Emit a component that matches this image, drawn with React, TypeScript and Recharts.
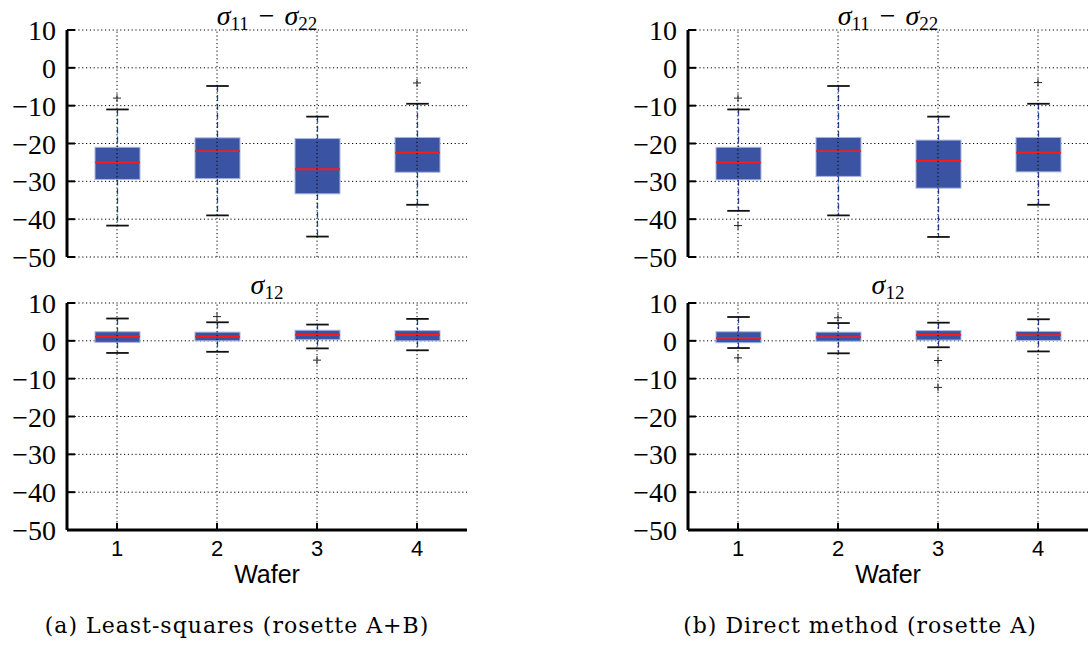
import { ComposedChart, Bar, Scatter, XAxis, YAxis, CartesianGrid, ReferenceLine } from 'recharts';

const wafers = [1, 2, 3, 4];
const yTicks = [-50, -40, -30, -20, -10, 0, 10];

// (a) least-squares, sigma11 - sigma22
const lsDiffLow = [-41.7, -39.0, -44.6, -36.2];
const lsDiffQ1 = [-29.5, -29.3, -33.3, -27.6];
const lsDiffMedian = [-25.0, -22.0, -26.8, -22.4];
const lsDiffQ3 = [-21.0, -18.5, -18.7, -18.4];
const lsDiffHigh = [-11.0, -4.8, -12.9, -9.5];
const lsDiffOutliers = [[-8.0], [], [], [-4.0]];

// (a) least-squares, sigma12
const lsShearLow = [-3.2, -2.9, -2.0, -2.5];
const lsShearQ1 = [-0.4, 0.0, 0.3, 0.0];
const lsShearMedian = [1.1, 1.1, 1.6, 1.6];
const lsShearQ3 = [2.4, 2.3, 2.8, 2.7];
const lsShearHigh = [5.9, 4.9, 4.3, 5.8];
const lsShearOutliers = [[], [6.4], [-5.1], []];

// (b) direct method, sigma11 - sigma22
const dmDiffLow = [-37.8, -39.0, -44.7, -36.2];
const dmDiffQ1 = [-29.6, -28.7, -31.8, -27.5];
const dmDiffMedian = [-25.0, -22.0, -24.6, -22.4];
const dmDiffQ3 = [-21.0, -18.4, -19.1, -18.4];
const dmDiffHigh = [-11.0, -4.8, -12.9, -9.5];
const dmDiffOutliers = [[-8.0, -41.7], [], [], [-3.9]];

// (b) direct method, sigma12
const dmShearLow = [-1.9, -3.3, -1.7, -2.8];
const dmShearQ1 = [-0.5, -0.1, 0.2, 0.1];
const dmShearMedian = [0.8, 1.0, 1.6, 1.5];
const dmShearQ3 = [2.4, 2.3, 2.7, 2.5];
const dmShearHigh = [6.3, 4.7, 4.8, 5.7];
const dmShearOutliers = [[-4.5], [6.1], [-5.2, -12.3], []];

const buildRows = (low: number[], q1: number[], med: number[], q3: number[], high: number[]) =>
  wafers.map((w, i) => ({ x: w, low: low[i], q1: q1[i], med: med[i], q3: q3[i], high: high[i] }));

const buildFliers = (out: number[][]) =>
  out.flatMap((vals, i) => vals.map((v) => ({ x: wafers[i], y: v })));

const PLOT_W = 400;
const PLOT_H = 227;
const AXIS_W = 67;
const PAD = 20;

const serif = '"Liberation Serif", "Times New Roman", serif';
const sans = '"Liberation Sans", Arial, sans-serif';
const gridDash = '1.2 2.6';

const minus = (v: number) => (v < 0 ? `\u2212${-v}` : `${v}`);

function BoxShape(props: any) {
  const { x, y, width, height, payload } = props;
  const { low, q1, med, q3, high } = payload;
  const k = height / (high - low);
  const py = (v: number) => y + (high - v) * k;
  const cx = x + width / 2;
  const cap = width / 4;
  return (
    <g>
      <line x1={cx} x2={cx} y1={py(high)} y2={py(q3)} stroke="#2a4aa8" strokeWidth={1.3} strokeDasharray="6 3" />
      <line x1={cx} x2={cx} y1={py(q1)} y2={py(low)} stroke="#2a4aa8" strokeWidth={1.3} strokeDasharray="6 3" />
      <line x1={cx - cap} x2={cx + cap} y1={py(high)} y2={py(high)} stroke="#111" strokeWidth={1.8} />
      <line x1={cx - cap} x2={cx + cap} y1={py(low)} y2={py(low)} stroke="#111" strokeWidth={1.8} />
      <rect x={x} y={py(q3)} width={width} height={py(q1) - py(q3)} fill="#3a53a3" stroke="#a9b6e2" strokeWidth={1} />
      <line x1={x} x2={x + width} y1={py(med)} y2={py(med)} stroke="#ff1a1a" strokeWidth={1.8} />
    </g>
  );
}

function Plus(props: any) {
  const { cx, cy } = props;
  return <path d={`M${cx - 4},${cy}H${cx + 4}M${cx},${cy - 4}V${cy + 4}`} stroke="#222" strokeWidth={1} fill="none" />;
}

function YTick(props: any) {
  const { x, y, payload } = props;
  return (
    <text x={x} y={y} dy={10} textAnchor="end" fontFamily={serif} fontSize={28} fill="#000">
      {minus(payload.value)}
    </text>
  );
}

function XTick(props: any) {
  const { x, y, payload } = props;
  return (
    <text x={x} y={y} dy={16} textAnchor="middle" fontFamily={sans} fontSize={22} fill="#000">
      {payload.value}
    </text>
  );
}

interface PanelProps {
  rows: any[];
  fliers: { x: number; y: number }[];
  plotX: number;
  plotY: number;
  showX: boolean;
}

function Panel({ rows, fliers, plotX, plotY, showX }: PanelProps) {
  const xh = showX ? 40 : 0;
  const frame = { stroke: '#000', strokeWidth: 3 };
  const tl = { stroke: '#000', strokeWidth: 2 };
  return (
    <div style={{ position: 'absolute', left: plotX - AXIS_W, top: plotY - PAD }}>
      <ComposedChart
        width={AXIS_W + PLOT_W + 5}
        height={PLOT_H + PAD + xh + PAD}
        data={rows}
        margin={{ top: PAD, right: 5, bottom: PAD, left: 0 }}
      >
        <XAxis
          dataKey="x"
          type="number"
          domain={[0.5, 4.5]}
          ticks={wafers}
          interval={0}
          allowDataOverflow
          height={xh}
          axisLine={frame}
          tickLine={tl}
          tickSize={-7}
          tickMargin={17}
          tick={showX ? XTick : false}
        />
        <XAxis xAxisId="t" orientation="top" dataKey="x" type="number" domain={[0.5, 4.5]} ticks={wafers} interval={0} allowDataOverflow height={0} axisLine={frame} tickLine={tl} tickSize={-7} tick={false} />
        <YAxis
          type="number"
          domain={[-50, 10]}
          ticks={yTicks}
          interval={0}
          allowDataOverflow
          width={AXIS_W}
          axisLine={frame}
          tickLine={tl}
          tickSize={-8}
          tickMargin={19}
          tick={YTick}
        />
        <YAxis yAxisId="r" orientation="right" type="number" domain={[-50, 10]} ticks={yTicks} interval={0} allowDataOverflow width={0} axisLine={frame} tickLine={tl} tickSize={-8} tick={false} />
        <Bar dataKey={(d: any) => [d.low, d.high]} barSize={45} shape={BoxShape} isAnimationActive={false} />
        <Scatter data={fliers} dataKey="y" shape={Plus} isAnimationActive={false} />
        <CartesianGrid vertical={false} stroke="#000" strokeDasharray={gridDash} strokeWidth={1} />
        {wafers.map((w) => (
          <ReferenceLine key={w} x={w} stroke="#000" strokeDasharray={gridDash} strokeWidth={1} />
        ))}
      </ComposedChart>
    </div>
  );
}

function Title({ cx, y, sub1, sub2 }: { cx: number; y: number; sub1: string; sub2?: string }) {
  return (
    <text x={cx} y={y} textAnchor="middle" fontFamily={serif} fontSize={28} fill="#000">
      <tspan fontStyle="italic">σ</tspan>
      <tspan fontSize={19} dy={5}>{sub1}</tspan>
      {sub2 && (
        <>
          <tspan dy={-5} dx={10}>{'\u2212'}</tspan>
          <tspan fontStyle="italic" dx={10}>σ</tspan>
          <tspan fontSize={19} dy={5}>{sub2}</tspan>
        </>
      )}
    </text>
  );
}

export default function App() {
  const left = 67;
  const right = 688;
  const top = 30;
  const bottom = 303;
  const cL = left + PLOT_W / 2;
  const cR = right + PLOT_W / 2;
  const caption = { fontFamily: '"DejaVu Serif", serif', fontSize: 22, letterSpacing: 1, fill: '#000' };
  return (
    <div style={{ position: 'absolute', left: 0, top: 0, width: 1089, height: 647, background: '#fff', overflow: 'hidden' }}>
      <Panel rows={buildRows(lsDiffLow, lsDiffQ1, lsDiffMedian, lsDiffQ3, lsDiffHigh)} fliers={buildFliers(lsDiffOutliers)} plotX={left} plotY={top} showX={false} />
      <Panel rows={buildRows(lsShearLow, lsShearQ1, lsShearMedian, lsShearQ3, lsShearHigh)} fliers={buildFliers(lsShearOutliers)} plotX={left} plotY={bottom} showX />
      <Panel rows={buildRows(dmDiffLow, dmDiffQ1, dmDiffMedian, dmDiffQ3, dmDiffHigh)} fliers={buildFliers(dmDiffOutliers)} plotX={right} plotY={top} showX={false} />
      <Panel rows={buildRows(dmShearLow, dmShearQ1, dmShearMedian, dmShearQ3, dmShearHigh)} fliers={buildFliers(dmShearOutliers)} plotX={right} plotY={bottom} showX />
      <svg width={1089} height={647} style={{ position: 'absolute', left: 0, top: 0, pointerEvents: 'none' }}>
        <Title cx={cL} y={25} sub1="11" sub2="22" />
        <Title cx={cR} y={25} sub1="11" sub2="22" />
        <Title cx={cL} y={294} sub1="12" />
        <Title cx={cR} y={294} sub1="12" />
        <text x={cL} y={583} textAnchor="middle" fontFamily={sans} fontSize={25} fill="#000">Wafer</text>
        <text x={cR} y={583} textAnchor="middle" fontFamily={sans} fontSize={25} fill="#000">Wafer</text>
        <text x={237} y={633} textAnchor="middle" {...caption}>(a) Least-squares (rosette A+B)</text>
        <text x={860} y={633} textAnchor="middle" {...caption}>(b) Direct method (rosette A)</text>
      </svg>
    </div>
  );
}
